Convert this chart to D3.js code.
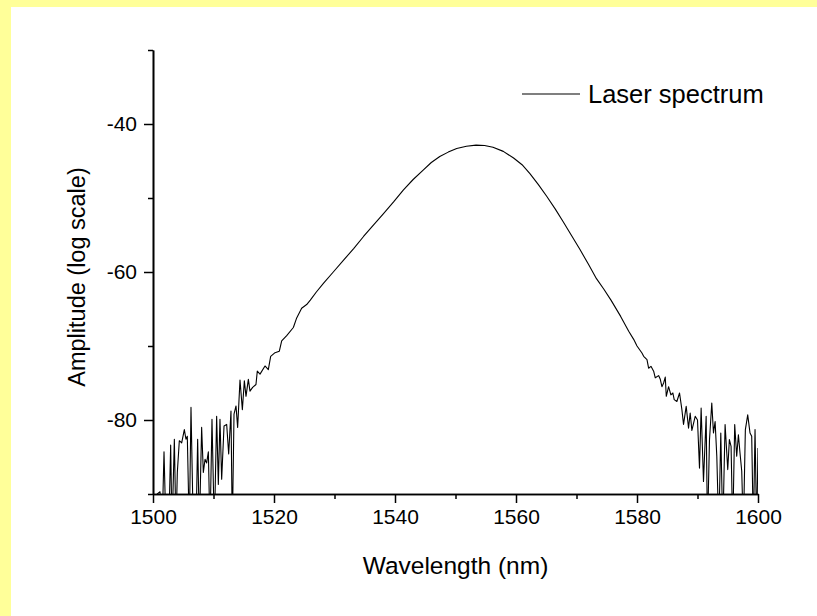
<!DOCTYPE html>
<html>
<head>
<meta charset="utf-8">
<title>Laser spectrum</title>
<script src="https://d3js.org/d3.v7.min.js"></script>
<style>
  html, body { margin: 0; padding: 0; background: #ffffff; }
  svg { display: block; }
  text { font-family: Arial, "Liberation Sans", sans-serif; fill: #000; }
</style>
</head>
<body>
<script>
// ---- data (wavelength in nm, amplitude in log scale) ----
// values below -90 are drawn under the axis and clipped
const leftNoiseWl = [1500.0, 1500.7, 1501.16, 1501.5, 1501.82, 1502.15, 1502.6, 1502.92, 1503.14, 1503.53,
  1503.8, 1504.02, 1504.35, 1504.74, 1505.18, 1505.45, 1505.67, 1506.0, 1506.28, 1506.67,
  1507.1, 1507.38, 1507.66, 1508.04, 1508.32, 1508.6, 1508.87, 1509.15, 1509.42, 1509.75,
  1510.14, 1510.52, 1510.8, 1511.07, 1511.35, 1511.74, 1512.18, 1512.51, 1512.89, 1513.11,
  1513.39, 1513.72, 1513.99, 1514.38, 1514.77, 1515.1, 1515.37, 1515.76, 1516.03, 1516.47,
  1517.02, 1517.24, 1517.69, 1518.51, 1519.06, 1519.45, 1520.17, 1520.88, 1521.27, 1522.1,
  1523.2, 1523.75, 1524.57];
const leftNoiseAmp = [-95, -90, -89.7, -95, -84.3, -95, -95, -83.4, -95, -82.6,
  -95, -87.1, -82.8, -83.1, -81.3, -82.6, -82.2, -95, -78.3, -95,
  -95, -82.6, -95, -81.0, -87.1, -85.3, -85.8, -84.3, -95, -79.9,
  -95, -79.5, -88.7, -79.9, -88.0, -80.8, -80.6, -84.6, -78.8, -95,
  -79.2, -78.1, -81.0, -74.6, -78.6, -74.7, -76.8, -74.5, -76.1, -75.6,
  -75.2, -73.4, -73.8, -72.7, -73.2, -71.4, -70.9, -70.7, -69.3, -68.6,
  -67.5, -66.2, -64.9];

const peakWl = [1525.4, 1526.0, 1527.0, 1528.2, 1529.8, 1531.5, 1533.2, 1534.8, 1536.5, 1538.1,
  1539.8, 1541.4, 1543.0, 1544.7, 1546.0, 1547.4, 1548.8, 1550.2, 1551.8, 1553.4,
  1554.8, 1556.2, 1557.9, 1559.6, 1561.0, 1562.3, 1563.7, 1565.1, 1566.5, 1567.8,
  1569.2, 1570.6, 1572.0, 1573.3, 1574.5, 1575.7];
const peakAmp = [-64.4, -63.8, -62.7, -61.5, -60.0, -58.4, -56.8, -55.2, -53.6, -52.1,
  -50.5, -48.9, -47.5, -46.2, -45.2, -44.4, -43.8, -43.3, -43.0, -42.85,
  -42.9, -43.15, -43.7, -44.6, -45.5, -46.7, -48.2, -49.8, -51.5, -53.2,
  -55.1, -57.0, -59.0, -60.9, -62.3, -63.8];

const rightNoiseWl = [1577.3, 1578.63, 1579.45, 1580.0, 1580.82, 1581.1, 1581.65, 1581.92, 1582.31, 1582.75,
  1583.02, 1583.57, 1583.85, 1584.12, 1584.4, 1584.67, 1584.84, 1585.22, 1585.6, 1585.93,
  1586.15, 1586.59, 1587.03, 1587.42, 1587.69, 1588.13, 1588.52, 1588.79, 1589.07, 1589.62,
  1590.0, 1590.33, 1590.6, 1590.99, 1591.43, 1591.65, 1591.98, 1592.36, 1592.64, 1592.91,
  1593.19, 1593.52, 1593.85, 1594.18, 1594.56, 1595.0, 1595.27, 1595.55, 1595.82, 1596.15,
  1596.48, 1596.76, 1597.03, 1597.31, 1597.58, 1597.91, 1598.3, 1598.68, 1598.96, 1599.23,
  1599.51, 1599.78, 1600.0];
const rightNoiseAmp = [-66.0, -68.0, -69.1, -70.0, -70.95, -71.4, -71.85, -73.0, -72.75, -73.4,
  -74.3, -74.0, -74.5, -75.5, -75.0, -74.2, -76.8, -75.5, -76.6, -76.35,
  -77.25, -77.5, -76.35, -78.6, -80.6, -78.15, -81.1, -79.05, -81.4, -79.5,
  -80.0, -86.5, -78.4, -88.3, -79.5, -95, -82.7, -77.7, -81.75, -80.2,
  -84.9, -95, -81.75, -95, -80.6, -86.7, -82.65, -83.55, -95, -80.6,
  -84.9, -82.0, -84.5, -86.9, -95, -81.3, -79.3, -81.75, -82.2, -95,
  -81.3, -95, -83.8];

const xMajorTicks = [1500, 1520, 1540, 1560, 1580, 1600];
const xMinorTicks = [1510, 1530, 1550, 1570, 1590];
const yMajorTicks = [-40, -60, -80];
const yMinorTicks = [-30, -50, -70, -90];

const seriesName = "Laser spectrum";

// ---- layout ----
const width = 817, height = 616;
const plot = { left: 153, right: 758, top: 50, bottom: 494 };

const svg = d3.select("body").append("svg")
  .attr("width", width)
  .attr("height", height);

// yellow frame on the left and top, white page
svg.append("rect").attr("width", width).attr("height", height).attr("fill", "#ffff99");
svg.append("rect").attr("x", 11).attr("y", 7)
  .attr("width", width - 11).attr("height", height - 7).attr("fill", "#ffffff");

const x = d3.scaleLinear().domain([1500, 1600]).range([plot.left, plot.right]);
const y = d3.scaleLinear().domain([-90, -30]).range([plot.bottom, plot.top]);

// join the three pieces into one trace
const points = [];
leftNoiseWl.forEach((w, i) => points.push([w, leftNoiseAmp[i]]));
peakWl.forEach((w, i) => points.push([w, peakAmp[i]]));
rightNoiseWl.forEach((w, i) => points.push([w, rightNoiseAmp[i]]));

svg.append("clipPath").attr("id", "plot-clip")
  .append("rect")
  .attr("x", plot.left).attr("y", plot.top)
  .attr("width", plot.right - plot.left).attr("height", plot.bottom - plot.top);

const line = d3.line()
  .x(d => x(d[0]))
  .y(d => y(d[1]));

svg.append("path")
  .datum(points)
  .attr("clip-path", "url(#plot-clip)")
  .attr("fill", "none")
  .attr("stroke", "#000")
  .attr("stroke-width", 1.1)
  .attr("stroke-linejoin", "round")
  .attr("d", line);

// axes: major ticks with labels, minor ticks without
function styleAxis(g) {
  g.selectAll("path.domain").attr("stroke", "#000").attr("stroke-width", 1.6);
  g.selectAll(".tick line").attr("stroke", "#000").attr("stroke-width", 1.5);
  g.selectAll(".tick text").style("font-size", "21px").style("font-family", "Arial, 'Liberation Sans', sans-serif");
}

const xAxisMajor = svg.append("g")
  .attr("transform", `translate(0,${plot.bottom})`)
  .call(d3.axisBottom(x).tickValues(xMajorTicks).tickSize(9).tickSizeOuter(0).tickPadding(6).tickFormat(d3.format("d")));
styleAxis(xAxisMajor);

const xAxisMinor = svg.append("g")
  .attr("transform", `translate(0,${plot.bottom})`)
  .call(d3.axisBottom(x).tickValues(xMinorTicks).tickSize(5).tickSizeOuter(0).tickFormat(""));
styleAxis(xAxisMinor);

const yAxisMajor = svg.append("g")
  .attr("transform", `translate(${plot.left},0)`)
  .call(d3.axisLeft(y).tickValues(yMajorTicks).tickSize(9).tickSizeOuter(0).tickPadding(7).tickFormat(d3.format("d")));
styleAxis(yAxisMajor);

const yAxisMinor = svg.append("g")
  .attr("transform", `translate(${plot.left},0)`)
  .call(d3.axisLeft(y).tickValues(yMinorTicks).tickSize(5).tickSizeOuter(0).tickFormat(""));
styleAxis(yAxisMinor);

// minus sign as a plain hyphen like the original
yAxisMajor.selectAll(".tick text").text(d => String(d));

// axis titles
svg.append("text")
  .attr("x", (plot.left + plot.right) / 2)
  .attr("y", 574)
  .attr("text-anchor", "middle")
  .style("font-size", "24.5px")
  .text("Wavelength (nm)");

svg.append("text")
  .attr("transform", `translate(85,${(plot.top + plot.bottom) / 2 + 5}) rotate(-90)`)
  .attr("text-anchor", "middle")
  .style("font-size", "23.5px")
  .text("Amplitude (log scale)");

// legend
const legend = svg.append("g").attr("transform", "translate(522,94)");
legend.append("line")
  .attr("x1", 0).attr("x2", 58).attr("y1", 0).attr("y2", 0)
  .attr("stroke", "#000").attr("stroke-width", 1.1);
legend.append("text")
  .attr("x", 66).attr("y", 9)
  .style("font-size", "25.5px")
  .text(seriesName);
</script>
</body>
</html>
